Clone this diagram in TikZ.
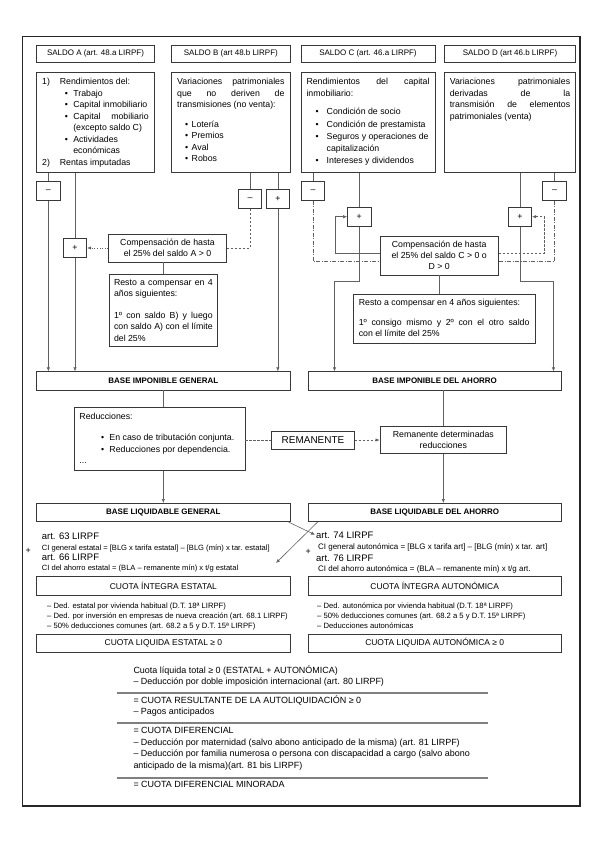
\documentclass[tikz,border=0pt]{standalone}
\usepackage{fontspec}
\setmainfont{Liberation Sans}
\usetikzlibrary{arrows.meta}
\definecolor{boxc}{gray}{0.22}
\definecolor{linec}{gray}{0.38}
\newcommand{\bul}[2]{\hspace*{#1}\makebox[#2][l]{\textbullet}}
\hyphenpenalty=10000
\exhyphenpenalty=10000
\hbadness=10000

\begin{document}
\begin{tikzpicture}[x=1bp, y=-1bp,
    every node/.style={inner sep=0pt, font=\fontsize{8.8}{11.6}\selectfont},
    boxed/.style={draw=boxc, line width=0.7bp},
    hdr/.style={boxed, minimum height=17.7bp, font=\fontsize{8}{9}\selectfont},
    body/.style={boxed, inner xsep=5.5bp, inner ysep=5.6bp},
    sign/.style={boxed, minimum width=23.5bp, minimum height=19bp},
    comp/.style={boxed, align=center, font=\fontsize{8.8}{10.8}\selectfont},
    basebox/.style={boxed, minimum width=253.5bp, minimum height=18.3bp, font=\bfseries\fontsize{8}{9}\selectfont},
    cuota/.style={boxed, minimum width=253.5bp, minimum height=18.3bp, font=\fontsize{8.5}{9}\selectfont},
    formula/.style={anchor=base west, font=\fontsize{7.6}{9}\selectfont},
    art/.style={anchor=base west, font=\fontsize{9.5}{11}\selectfont},
    ded/.style={anchor=base west, font=\fontsize{7.7}{9}\selectfont},
    total/.style={anchor=base west, font=\fontsize{9}{11}\selectfont},
    ln/.style={draw=linec, line width=0.6bp},
    arr/.style={ln, -{Latex[length=4bp, width=3.4bp]}},
    dashdotline/.style={ln, dash pattern=on 4bp off 1.5bp on 1bp off 1.5bp},
    rule/.style={draw=black!50, line width=1.2bp}
  ]
  \useasboundingbox (0,0) rectangle (599,848);
  % frame
  \draw[line width=0.8bp, black!85] (22,36) rectangle (580,806);
  \draw[line width=1.8bp, black!85] (580,36) -- (580,806) -- (22,806);

  % saldos
  \node[hdr, minimum width=117.6bp] (hdrA) at (95.5,53.85) {SALDO A (art. 48.a LIRPF)};
  \node[hdr, minimum width=118.3bp] (hdrB) at (230.85,53.85) {SALDO B (art 48.b LIRPF)};
  \node[hdr, minimum width=134bp] (hdrC) at (368,53.85) {SALDO C (art. 46.a LIRPF)};
  \node[hdr, minimum width=131.4bp] (hdrD) at (510,53.85) {SALDO D (art 46.b LIRPF)};

  \node[body] (saldoA) at (95.5,122.7) {\parbox[c][88.8bp][t]{106.6bp}{%
    \makebox[17.7bp][l]{1)}Rendimientos del:\\
    \bul{22.8bp}{8.3bp}Trabajo\\
    \bul{22.8bp}{8.3bp}Capital inmobiliario\\
    \bul{22.8bp}{8.3bp}\makebox[75.5bp][s]{Capital mobiliario}\\
    \hspace*{31.1bp}(excepto saldo C)\\
    \bul{22.8bp}{8.3bp}Actividades\\
    \hspace*{31.1bp}económicas\\
    \makebox[17.7bp][l]{2)}Rentas imputadas}};
  \node[body] (saldoB) at (230.85,122.7) {\parbox[c][88.8bp][t]{107.3bp}{%
    Variaciones patrimoniales\linebreak
    que no deriven de\linebreak
    transmisiones (no venta):\\[8bp]
    \bul{7.8bp}{6.7bp}Lotería\\
    \bul{7.8bp}{6.7bp}Premios\\
    \bul{7.8bp}{6.7bp}Aval\\
    \bul{7.8bp}{6.7bp}Robos}};
  \node[body] (saldoC) at (368,122.7) {\parbox[c][88.8bp][t]{123bp}{%
    Rendimientos del capital\linebreak
    inmobiliario:\\[7bp]
    \bul{9.2bp}{11bp}Condición de socio\\[1bp]
    \bul{9.2bp}{11bp}Condición de prestamista\\[1bp]
    \bul{9.2bp}{11bp}Seguros y operaciones de\\
    \hspace*{20.2bp}capitalización\\[1bp]
    \bul{9.2bp}{11bp}Intereses y dividendos}};
  \node[body] (saldoD) at (510,122.7) {\parbox[c][88.8bp][t]{120.4bp}{%
    Variaciones patrimoniales\linebreak
    derivadas de la\linebreak
    transmisión de elementos\linebreak
    patrimoniales (venta)}};

  % signos
  \node[sign] (minA) at (48.35,190.85) {–};
  \node[sign] (plusA) at (75,248) {+};
  \node[sign] (minB) at (250,198.8) {–};
  \node[sign] (plusB) at (277.85,198.8) {+};
  \node[sign] (minC) at (313,190.85) {–};
  \node[sign] (plusC) at (359.2,216.7) {+};
  \node[sign] (plusD) at (520,216.7) {+};
  \node[sign] (minD) at (554.5,190.85) {–};

  % compensaciones
  \node[comp, minimum width=118.4bp, minimum height=27.7bp] (compAB) at (167.5,248)
    {Compensación de hasta\\el 25\% del saldo A > 0};
  \node[body, inner xsep=5bp, inner ysep=5bp] (restoAB) at (163.35,310) {\parbox[c][62bp][t]{98.7bp}{%
    Resto a compensar en 4\linebreak años siguientes:\\[10bp]
    1º con saldo B) y luego\linebreak con saldo A) con el límite\linebreak del 25\%}};
  \node[comp, minimum width=118.3bp, minimum height=39bp] (compCD) at (439.15,255.5)
    {Compensación de hasta\\el 25\% del saldo C > 0 o\\D > 0};
  \node[body] (restoCD) at (444.15,318.65) {\parbox[c][38.1bp][t]{170.7bp}{%
    Resto a compensar en 4 años siguientes:\\[7.7bp]
    1º consigo mismo y 2º con el otro saldo\linebreak con el límite del 25\%}};

  % bases
  \node[basebox] (baseGen) at (163.35,380.85) {BASE IMPONIBLE GENERAL};
  \node[basebox] (baseAho) at (434.7,380.85) {BASE IMPONIBLE DEL AHORRO};
  \node[body] (reduc) at (159.5,439) {\parbox[c][52.2bp][t]{160bp}{%
    Reducciones:\\[10bp]
    \bul{21.7bp}{8.3bp}En caso de tributación conjunta.\\
    \bul{21.7bp}{8.3bp}Reducciones por dependencia.\\
    ...}};
  \node[boxed, minimum width=82.6bp, minimum height=18bp, font=\fontsize{10}{11}\selectfont] (reman) at (313,440) {REMANENTE};
  \node[comp, minimum width=126.7bp, minimum height=26.7bp] (remanDet) at (443.35,440)
    {Remanente determinadas\\reducciones};
  \node[basebox] (liqGen) at (163.35,512.5) {BASE LIQUIDABLE GENERAL};
  \node[basebox] (liqAho) at (434.7,512.5) {BASE LIQUIDABLE DEL AHORRO};

  % cuotas integras
  \node[art] (art63) at (41.7,539.7) {art. 63 LIRPF};
  \node[formula] (clGen) at (41.7,550) {CI general estatal = [BLG x tarifa estatal] – [BLG (mín) x tar. estatal]};
  \node[art] (art66) at (41.7,560.7) {art. 66 LIRPF};
  \node[formula] (clAhoE) at (41.7,570) {CI del ahorro estatal = (BLA – remanente mín) x t/g estatal};
  \node[font=\fontsize{9}{10}\selectfont] (sumL) at (28.3,551) {+};
  \node[art] (art74) at (316,538) {art. 74 LIRPF};
  \node[formula, font=\fontsize{8}{9}\selectfont] (clGenA) at (318,549.4) {CI general autonómica = [BLG x tarifa art] – [BLG (mín) x tar. art]};
  \node[art] (art76) at (316,561.3) {art. 76 LIRPF};
  \node[formula, font=\fontsize{8}{9}\selectfont] (clAhoA) at (318,571) {CI del ahorro autonómica = (BLA – remanente mín) x t/g art.};
  \node[font=\fontsize{9}{10}\selectfont] (sumR) at (308.3,551.7) {+};
  \node[cuota] (cuotaIntE) at (163.35,585.85) {CUOTA ÍNTEGRA ESTATAL};
  \node[cuota] (cuotaIntA) at (434.7,585.85) {CUOTA ÍNTEGRA AUTONÓMICA};

  % deducciones
  \node[ded] (dedE1) at (47,608.2) {– Ded. estatal por vivienda habitual (D.T. 18ª LIRPF)};
  \node[ded] (dedE2) at (47,618.5) {– Ded. por inversión en empresas de nueva creación (art. 68.1 LIRPF)};
  \node[ded] (dedE3) at (47,628.7) {– 50\% deducciones comunes (art. 68.2 a 5 y D.T. 15ª LIRPF)};
  \node[ded] (dedA1) at (317,608.2) {– Ded. autonómica por vivienda habitual (D.T. 18ª LIRPF)};
  \node[ded] (dedA2) at (317,618.5) {– 50\% deducciones comunes (art. 68.2 a 5 y D.T. 15ª LIRPF)};
  \node[ded] (dedA3) at (317,628.7) {– Deducciones autonómicas};
  \node[cuota] (cuotaLiqE) at (163.35,643) {CUOTA LIQUIDA ESTATAL ≥ 0};
  \node[cuota] (cuotaLiqA) at (434.7,643) {CUOTA LIQUIDA AUTONÓMICA ≥ 0};

  % cuota total
  \node[total] (cuotaTot) at (133.3,673) {Cuota líquida total ≥ 0 (ESTATAL + AUTONÓMICA)};
  \node[total] (dedDoble) at (133.3,684.7) {– Deducción por doble imposición internacional (art. 80 LIRPF)};
  \draw[rule] (117.3,693) -- (488.3,693);
  \node[total] (cuotaRes) at (133.3,703.2) {= CUOTA RESULTANTE DE LA AUTOLIQUIDACIÓN ≥ 0};
  \node[total] (pagos) at (133.3,714.9) {– Pagos anticipados};
  \draw[rule] (117.3,723) -- (488.3,723);
  \node[total] (cuotaDif) at (133.3,733.4) {= CUOTA DIFERENCIAL};
  \node[total] (dedMat) at (133.3,745.1) {– Deducción por maternidad (salvo abono anticipado de la misma) (art. 81 LIRPF)};
  \node[total] (dedFam) at (133.3,756.8) {– Deducción por familia numerosa o persona con discapacidad a cargo (salvo abono};
  \node[total] (dedFam2) at (133.3,768.5) {anticipado de la misma)(art. 81 bis LIRPF)};
  \draw[rule] (117.3,778) -- (488.3,778);
  \node[total] (cuotaMin) at (133.3,787) {= CUOTA DIFERENCIAL MINORADA};

  % conectores A y B
  \draw[ln] (saldoA.south -| minA) -- (minA.north);
  \draw[arr] (minA.south) -- (minA.south |- baseGen.north);
  \draw[ln] (saldoA.south -| plusA) -- (plusA.north);
  \draw[arr] (plusA.south) -- (plusA.south |- baseGen.north);
  \draw[ln] (saldoB.south -| minB) -- (minB.north);
  \draw[ln] (saldoB.south -| plusB) -- (plusB.north);
  \draw[arr] (plusB.south) -- (plusB.south |- baseGen.north);
  \draw[ln, dash pattern=on 2.5bp off 1.5bp] (minB.south) |- (compAB.east);
  \draw[arr, dotted] (compAB.west) -- (plusA.east);
  \draw[ln] (compAB.south -| restoAB.north) -- (restoAB.north);

  % conectores C y D
  \draw[ln] (saldoC.south -| minC) -- (minC.north);
  \draw[dashdotline] (minC.south) |- ([yshift=-6bp]compCD.west);
  \draw[ln] (saldoC.south -| plusC) -- (plusC.north);
  \draw[arr] ([yshift=2bp]compCD.west) -| ([xshift=-12bp]plusC.west) -- (plusC.west);
  \coordinate (bendC) at (334.5,281);
  \draw[arr] (plusC.south) |- (bendC) -- (bendC |- baseAho.north);
  \draw[ln] (saldoD.south -| minD) -- (minD.north);
  \draw[dashdotline] (minD.south) |- ([yshift=-6bp]compCD.east);
  \draw[ln] (saldoD.south -| plusD) -- (plusD.north);
  \draw[arr, dash pattern=on 2.5bp off 1.5bp] ([yshift=2bp]compCD.east) -| ([xshift=12bp]plusD.east) -- (plusD.east);
  \coordinate (bendD) at (553.5,281);
  \draw[arr] (plusD.south) |- (bendD) -- (bendD |- baseAho.north);
  \draw[ln] (compCD.south) -- (compCD.south |- restoCD.north);

  % bases a liquidables
  \draw[ln] (baseGen.south) -- (baseGen.south |- reduc.north);
  \draw[arr] (reduc.south -| baseGen.south) -- (liqGen.north);
  \draw[ln, dash pattern=on 2.5bp off 1.5bp] (reduc.east |- reman.west) -- (reman.west);
  \draw[arr, dash pattern=on 2.5bp off 1.5bp] (reman.east) -- (remanDet.west);
  \draw[ln] (baseAho.south -| remanDet.north) -- (remanDet.north);
  \draw[arr] (remanDet.south) -- (remanDet.south |- liqAho.north);
  \draw[arr] ([xshift=-2bp]liqGen.south east) -- ([xshift=-1bp]art74.west);
  \coordinate (tipAho) at (276,563);
  \draw[arr] ([xshift=10bp]liqAho.south west) -- (tipAho);
\end{tikzpicture}
\end{document}
